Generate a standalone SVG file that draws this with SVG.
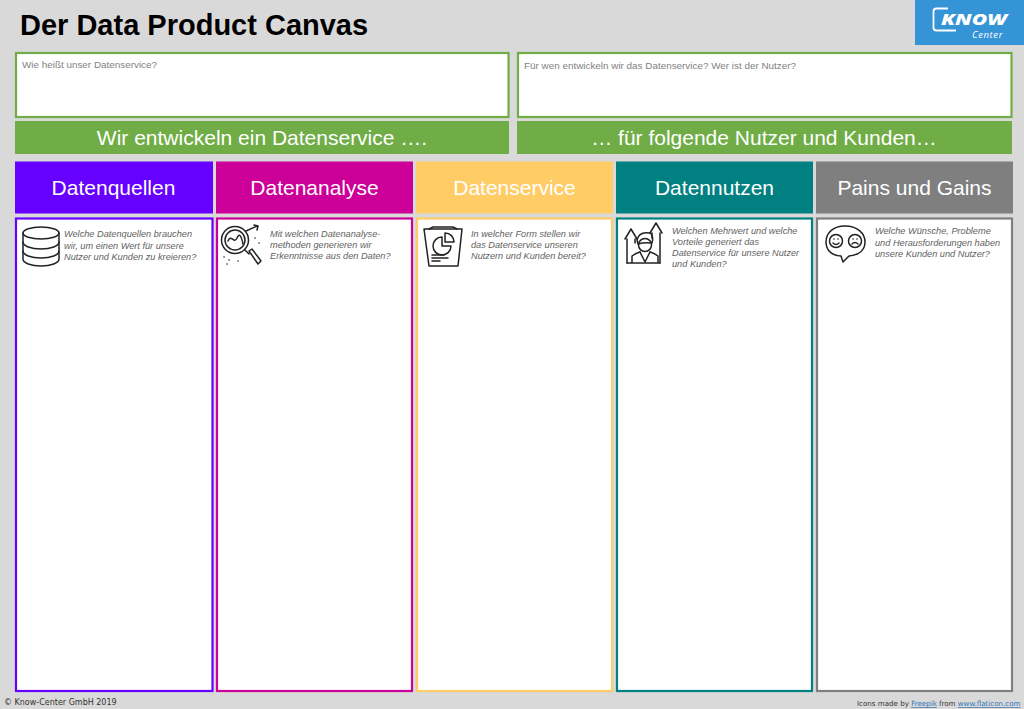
<svg xmlns="http://www.w3.org/2000/svg" width="1024" height="709" viewBox="0 0 1024 709">
<style>
text{font-family:"Liberation Sans",Arial,sans-serif}
.q{fill:#7f7f7f;font-size:9.900px}
.h{fill:#fff;font-size:21px;text-anchor:middle}
.b{fill:#fff;font-size:21px;text-anchor:middle}
.i{fill:#5f5f5f;font-size:9.200px;font-style:italic}
.box{fill:#fff;stroke-width:2.200}
.ic{fill:none;stroke:#222;stroke-width:1.500;stroke-linecap:round;stroke-linejoin:round}
.ft{font-family:"DejaVu Sans",Verdana,sans-serif;font-size:8px;fill:#333}
.lk{fill:#2e75b6;text-decoration:underline}
.lg{font-family:"Open Sans",sans-serif;fill:#fff;font-style:italic}
</style>
<rect width="1024" height="709" fill="#d9d9d9"/>
<text x="20" y="35" font-size="29" font-weight="700" fill="#000">Der Data Product Canvas</text>
<g id="logo">
<rect x="915" y="0" width="109" height="45" fill="#3594d6"/>
<path d="M948 8.500H936.500Q933.500 8.500 933.500 11.500V27.500Q933.500 30.500 936.500 30.500H956" fill="none" stroke="#fff" stroke-width="1.800"/>
<text class="lg" x="941" y="25" font-size="16" font-weight="800" textLength="66" lengthAdjust="spacingAndGlyphs">KNOW</text>
<text class="lg" x="972" y="37.500" font-size="9.500" letter-spacing=".6">Center</text>
</g>
<g id="name-box">
<rect class="box" x="16" y="53" width="492.500" height="64" stroke="#70ad47"/>
<text class="q" x="22" y="68">Wie heißt unser Datenservice?</text>
</g>
<g id="user-box">
<rect class="box" x="518" y="53" width="493.500" height="64" stroke="#70ad47"/>
<text class="q" x="524" y="69">Für wen entwickeln wir das Datenservice? Wer ist der Nutzer?</text>
</g>
<g id="band-left">
<rect x="15" y="121" width="494" height="33" fill="#70ad47"/>
<text class="b" x="262" y="145">Wir entwickeln ein Datenservice ….</text>
</g>
<g id="band-right">
<rect x="517" y="121" width="495" height="33" fill="#70ad47"/>
<text class="b" x="764" y="145">… für folgende Nutzer und Kunden…</text>
</g>

<g id="datenquellen">
<rect x="15" y="161.500" width="198" height="52" fill="#6600ff"/>
<text class="h" x="113.500" y="195">Datenquellen</text>
<rect class="box" x="16" y="218.500" width="196.500" height="472.500" stroke="#6600ff"/>
<g class="ic">
<ellipse cx="41" cy="233" rx="18" ry="6"/>
<path d="M23 233V259C23 263 31 266 41 266S59 263 59 259V233"/>
<path d="M23 242C23 246 31 249 41 249S59 246 59 242"/>
<path d="M23 251C23 255 31 258 41 258S59 255 59 251"/>
</g>
<text class="i"><tspan x="64" y="237">Welche Datenquellen brauchen</tspan><tspan x="64" y="248.500">wir, um einen Wert für unsere</tspan><tspan x="64" y="259.500">Nutzer und Kunden zu kreieren?</tspan></text>
</g>

<g id="datenanalyse">
<rect x="216" y="161.500" width="197" height="52" fill="#cc0099"/>
<text class="h" x="314.500" y="195">Datenanalyse</text>
<rect class="box" x="217" y="218.500" width="195" height="472.500" stroke="#cc0099"/>
<g class="ic">
<circle cx="235" cy="240" r="13.500"/>
<circle cx="235" cy="240" r="10"/>
<path d="M228 241C231 233 234 245 237 238S242 239 243 244"/>
<path d="M245 250L249 254M249 251L258 264L261 261L252 249Z"/>
<path d="M246 231L257 226M254 225L258 226L257 230"/>
<path d="M224 257h.1M229 260h.1M227 264h.1M259 243h.1M255 238h.1M238 261h.1"/>
</g>
<text class="i"><tspan x="270" y="237">Mit welchen Datenanalyse-</tspan><tspan x="270" y="248">methoden generieren wir</tspan><tspan x="270" y="259">Erkenntnisse aus den Daten?</tspan></text>
</g>

<g id="datenservice">
<rect x="416" y="161.500" width="197" height="52" fill="#ffcc66"/>
<text class="h" x="514.500" y="195">Datenservice</text>
<rect class="box" x="417" y="218.500" width="195" height="472.500" stroke="#ffcc66"/>
<g class="ic">
<path d="M424 229L462 229L458 266H429Z"/>
<path d="M429 229L433 227H453L457 229"/>
<path d="M442 237A9 9 0 1 0 451 246H442Z"/>
<path d="M445 233V242H454A9 9 0 0 0 445 233Z"/>
<path d="M432 255H444M432 258H448M432 261H440"/>
</g>
<text class="i"><tspan x="471" y="237">In welcher Form stellen wir</tspan><tspan x="471" y="248">das Datenservice unseren</tspan><tspan x="471" y="259">Nutzern und Kunden bereit?</tspan></text>
</g>

<g id="datennutzen">
<rect x="616" y="161.500" width="197" height="52" fill="#008080"/>
<text class="h" x="714.500" y="195">Datennutzen</text>
<rect class="box" x="617" y="218.500" width="195" height="472.500" stroke="#008080"/>
<g class="ic">
<path d="M625 239L631 229L637 239M627 239V263M635 239V243"/>
<path d="M650 233L656 223L662 233M652 233V238M660 233V263"/>
<path d="M632 263V256Q636 253 640 252M650 252Q654 253 658 256V263M627 263H660"/>
<circle cx="645" cy="245" r="6.500"/>
<path d="M637 240Q639 231 650 233Q654 236 652 243Q644 242 638 244Z"/>
<path d="M640 252L645 262L650 252"/>
</g>
<text class="i"><tspan x="672" y="234">Welchen Mehrwert und welche</tspan><tspan x="672" y="245">Vorteile generiert das</tspan><tspan x="672" y="256">Datenservice für unsere Nutzer</tspan><tspan x="672" y="267">und Kunden?</tspan></text>
</g>

<g id="pains-gains">
<rect x="816" y="161.500" width="197" height="52" fill="#7f7f7f"/>
<text class="h" x="914.500" y="195">Pains und Gains</text>
<rect class="box" x="817" y="218.500" width="195" height="472.500" stroke="#7f7f7f"/>
<g class="ic">
<path d="M845 226C833 226 826 233 826 242C826 251 833 256 841 256L843 262L849 256C859 255 865 250 865 242C865 233 857 226 845 226Z"/>
<circle cx="836" cy="241" r="6.500"/>
<circle cx="855" cy="241" r="6.500"/>
<path d="M833 243Q836 246 839 243M852 244Q855 241 858 244M834 239h.1M838 239h.1M853 239h.1M857 239h.1"/>
</g>
<text class="i"><tspan x="875" y="234">Welche Wünsche, Probleme</tspan><tspan x="875" y="246">und Herausforderungen haben</tspan><tspan x="875" y="257">unsere Kunden und Nutzer?</tspan></text>
</g>

<text class="ft" x="4" y="705">© Know-Center GmbH 2019</text>
<text class="ft" x="857" y="706" style="font-size:7.100px">Icons made by <tspan class="lk">Freepik</tspan> from <tspan class="lk">www.flaticon.com</tspan></text>
</svg>
